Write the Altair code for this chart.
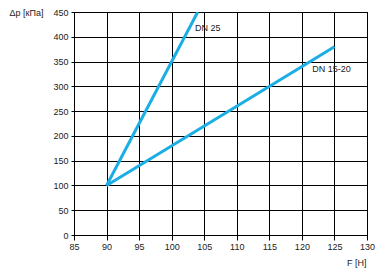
import altair as alt
import pandas as pd

series = ["DN 25", "DN 25", "DN 15-20", "DN 15-20"]
force = [90, 104, 90, 125]
dp = [100, 450, 100, 380]

label_text = ["DN 25", "DN 15-20"]
label_x = [103.6, 121.6]
label_y = [418, 335]

x_ticks = [85, 90, 95, 100, 105, 110, 115, 120, 125, 130]
y_ticks = [0, 50, 100, 150, 200, 250, 300, 350, 400, 450]

df = pd.DataFrame({"series": series, "F": force, "dp": dp})
lab = pd.DataFrame({"t": label_text, "F": label_x, "dp": label_y})

FONT = "Liberation Sans"
FS = 9

xs = alt.Scale(domain=[85, 130], nice=False, zero=False)
ys = alt.Scale(domain=[0, 450], nice=False)

x_axis = alt.Axis(
    values=x_ticks, title="F [H]", titleAngle=0,
    titleAlign="right", titleX=292, titleY=27, titleBaseline="middle",
    titleFontWeight="normal", titleFont=FONT, titleFontSize=FS, titleColor="#222",
    labelFont=FONT, labelFontSize=FS, labelColor="#222", tickSize=5, labelPadding=2,
    labelOverlap=False,
    tickColor="black", domainColor="black", gridColor="black", gridOpacity=1, gridWidth=1,
    labelFlush=False)
y_axis = alt.Axis(
    values=y_ticks, title="Δp [кПа]", titleAngle=0,
    titleAlign="right", titleX=-31, titleY=0, titleBaseline="middle",
    titleFontWeight="normal", titleFont=FONT, titleFontSize=FS, titleColor="#222",
    labelFont=FONT, labelFontSize=FS, labelColor="#222", tickSize=3, labelPadding=3,
    labelOverlap=False,
    tickColor="black", domainColor="black", gridColor="black", gridOpacity=1, gridWidth=1,
    labelFlush=False)

lines = alt.Chart(df).mark_line(color="#1aaee5", strokeWidth=3, clip=True).encode(
    x=alt.X("F:Q", scale=xs, axis=x_axis),
    y=alt.Y("dp:Q", scale=ys, axis=y_axis),
    detail="series:N",
)

labels = alt.Chart(lab).mark_text(font=FONT, fontSize=FS, color="#222", align="left",
                                 baseline="middle").encode(
    x=alt.X("F:Q", scale=xs, axis=x_axis), y=alt.Y("dp:Q", scale=ys, axis=y_axis), text="t:N")

chart = (lines + labels).properties(
    width=293, height=223,
    background="white",
    autosize=alt.AutoSizeParams(type="none"),
    padding={"left": 74, "top": 12, "right": 24, "bottom": 36},
).configure_view(stroke="black", strokeWidth=1)

chart.save("out.html", embed_options={"renderer": "svg", "actions": False})
